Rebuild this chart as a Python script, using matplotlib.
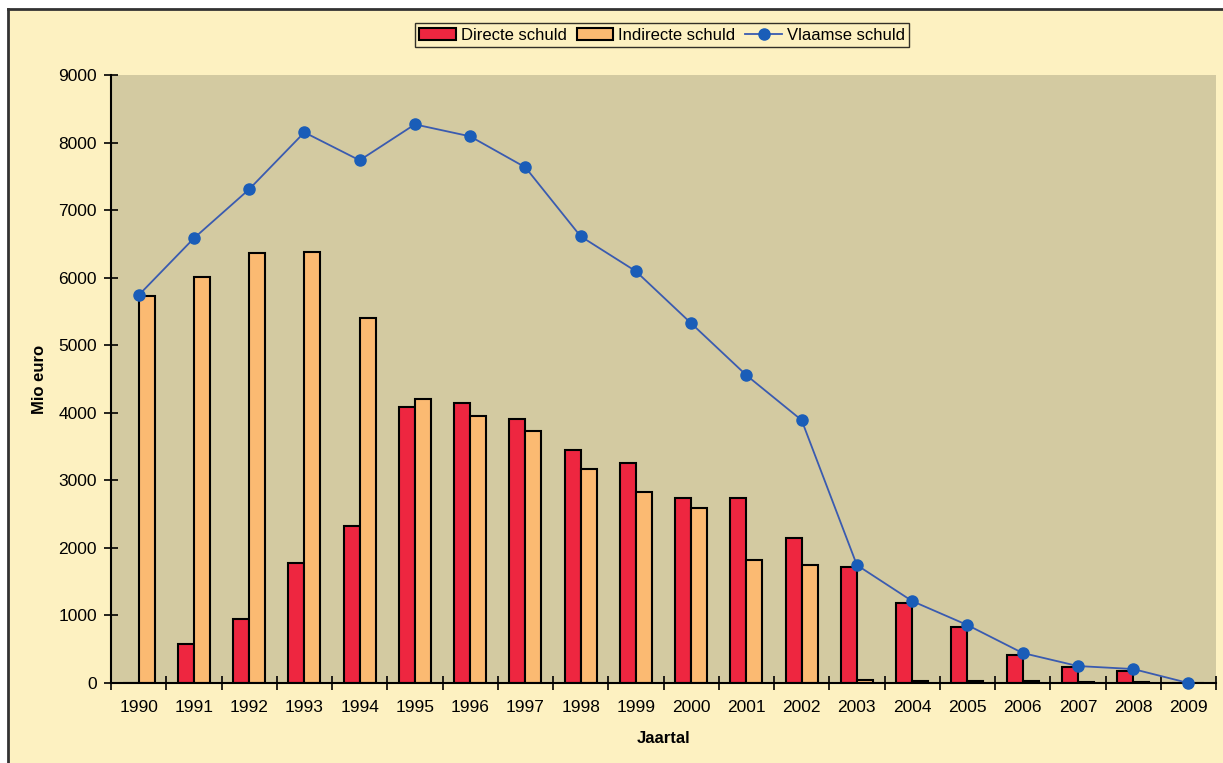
import numpy as np
import matplotlib.pyplot as plt
from matplotlib.patches import Rectangle
from matplotlib.lines import Line2D

# ─── gegevens (mio euro) ────────────────────────────────────────────────
jaren = [str(j) for j in range(1990, 2010)]
directe = [0, 577, 947, 1775, 2322, 4083, 4142, 3905, 3447, 3254,
           2737, 2737, 2145, 1716, 1183, 828, 414, 237, 178, 0]
indirecte = [5725, 6006, 6361, 6376, 5399, 4201, 3950, 3728, 3166, 2825,
             2589, 1820, 1746, 40, 30, 30, 25, 20, 15, 0]
vlaamse = [5740, 6583, 7308, 8151, 7737, 8269, 8092, 7633, 6612, 6095,
           5325, 4556, 3891, 1746, 1213, 858, 444, 251, 207, 0]

# ─── opmaak ─────────────────────────────────────────────────────────────
plt.rcParams['font.family'] = ['Liberation Sans', 'DejaVu Sans']
plt.rcParams['font.size'] = 12.5

BG = '#FDF1C1'
PLOT_BG = '#D3CAA1'
ROOD = '#EE2640'
ORANJE = '#FBBA72'
LIJN = '#3A5BB0'
PUNT = '#1A5DB8'

fig = plt.figure(figsize=(12.23, 7.63), dpi=100, facecolor='white')
W, H = 1223, 763

# gele achtergrond met rand links en boven
fig.patches.append(Rectangle((8 / W, 0), 1, 1 - 9 / H, transform=fig.transFigure,
                             facecolor=BG, edgecolor='none', zorder=-10))
fig.lines.append(Line2D([8 / W, 8 / W], [0, 1 - 9 / H], transform=fig.transFigure,
                        color='#333333', linewidth=2, zorder=-9))
fig.lines.append(Line2D([8 / W, 1], [1 - 9 / H, 1 - 9 / H], transform=fig.transFigure,
                        color='#333333', linewidth=2, zorder=-9))

ax = fig.add_axes([111 / W, 1 - 683 / H, (1216 - 111) / W, (683 - 75) / H])
ax.set_facecolor(PLOT_BG)

x = np.arange(len(jaren))
bw = 0.29
b1 = ax.bar(x - bw / 2, directe, width=bw, color=ROOD, edgecolor='black',
            linewidth=1.5, label='Directe schuld', zorder=2)
b2 = ax.bar(x + bw / 2, indirecte, width=bw, color=ORANJE, edgecolor='black',
            linewidth=1.5, label='Indirecte schuld', zorder=2)
l1, = ax.plot(x, vlaamse, color=LIJN, linewidth=1.3, marker='o', markersize=8,
              markerfacecolor=PUNT, markeredgecolor=PUNT, label='Vlaamse schuld',
              zorder=3, clip_on=False)

ax.set_xlim(-0.5, len(jaren) - 0.5)
ax.set_ylim(0, 9000)
ax.set_yticks(np.arange(0, 9001, 1000))

# jaartallen onder het midden, streepjes tussen de categorieën
ax.set_xticks(x)
ax.set_xticklabels(jaren)
ax.tick_params(axis='x', which='major', length=0, pad=12)
ax.set_xticks(np.arange(-0.5, len(jaren)), minor=True)
ax.tick_params(axis='x', which='minor', direction='inout', length=10, width=1.2)
ax.tick_params(axis='y', direction='inout', length=10, width=1.2, pad=5)

for s in ['top', 'right']:
    ax.spines[s].set_visible(False)
for s in ['left', 'bottom']:
    ax.spines[s].set_linewidth(1.5)

ax.set_xlabel('Jaartal', fontweight='bold', fontsize=12, labelpad=12)
ax.set_ylabel('Mio euro', fontweight='bold', fontsize=12, labelpad=8)

leg = fig.legend([b1, b2, l1], ['Directe schuld', 'Indirecte schuld', 'Vlaamse schuld'],
                 loc='center', bbox_to_anchor=(662 / W, 1 - 35 / H), ncol=3,
                 frameon=True, fancybox=False, facecolor=BG, edgecolor='black',
                 handlelength=2.2, handletextpad=0.3, columnspacing=0.6,
                 borderpad=0.25, fontsize=12)
leg.get_frame().set_linewidth(1.0)

fig.savefig('out.png', dpi=100, facecolor=fig.get_facecolor())
